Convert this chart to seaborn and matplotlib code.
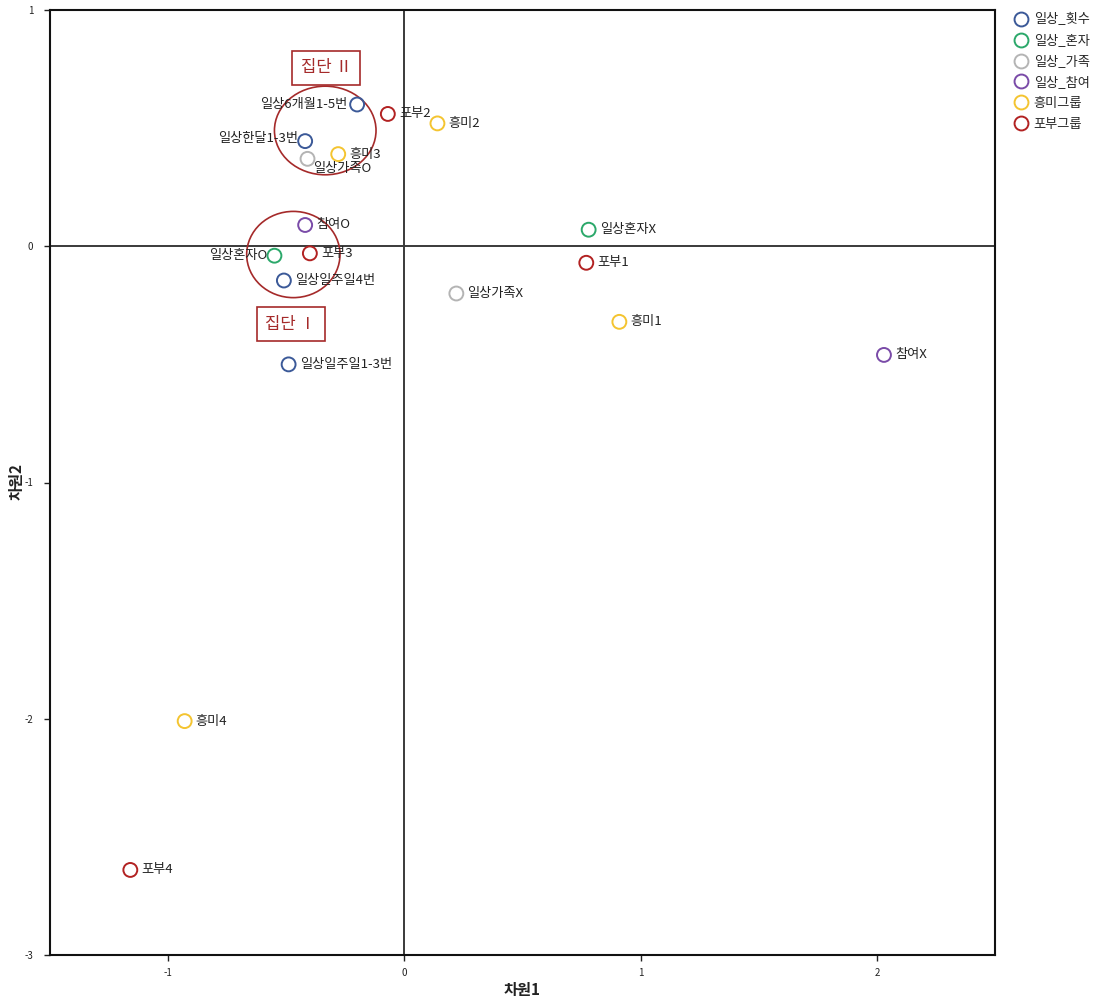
import matplotlib
matplotlib.use("Agg")
import matplotlib.pyplot as plt
from matplotlib.patches import Ellipse
from matplotlib.lines import Line2D
import seaborn as sns
import pandas as pd

sns.set_theme(style="white")
plt.rcParams['font.family'] = ['Noto Sans CJK KR', 'DejaVu Sans']
plt.rcParams['axes.unicode_minus'] = False

# Category coordinates on the two correspondence dimensions
labels = ["일상6개월1-5번", "일상한달1-3번", "일상일주일4번", "일상일주일1-3번",
          "일상혼자O", "일상혼자X",
          "일상가족O", "일상가족X",
          "참여O", "참여X",
          "흥미1", "흥미2", "흥미3", "흥미4",
          "포부1", "포부2", "포부3", "포부4"]
dim1 = [-0.20, -0.42, -0.51, -0.49,
        -0.55, 0.78,
        -0.41, 0.22,
        -0.42, 2.03,
        0.91, 0.14, -0.28, -0.93,
        0.77, -0.07, -0.40, -1.16]
dim2 = [0.60, 0.445, -0.145, -0.50,
        -0.04, 0.07,
        0.37, -0.20,
        0.09, -0.46,
        -0.32, 0.52, 0.39, -2.01,
        -0.07, 0.56, -0.03, -2.64]
groups = ["일상_횟수"] * 4 + ["일상_혼자"] * 2 + ["일상_가족"] * 2 + ["일상_참여"] * 2 \
         + ["흥미그룹"] * 4 + ["포부그룹"] * 4

group_order = ["일상_횟수", "일상_혼자", "일상_가족", "일상_참여", "흥미그룹", "포부그룹"]
group_colors = ["#3b5998", "#2ba86a", "#b4b4b4", "#7a4ba8", "#f4c430", "#b22222"]

# label offsets (pixels) and alignment per point
label_pos = {
    "일상6개월1-5번": (-10, 0, "right", "center"),
    "일상한달1-3번": (-7, 3, "right", "center"),
    "일상혼자O": (-7, 0, "right", "center"),
    "일상가족O": (6, -10, "left", "center"),
}

df = pd.DataFrame({"label": labels, "dim1": dim1, "dim2": dim2, "group": groups})

fig = plt.figure(figsize=(10.99, 10.0), dpi=100)
ax = fig.add_axes([50 / 1099, 45 / 1000, 945 / 1099, 945 / 1000])

ax.axhline(0, color="#3a3a3a", lw=1.4, zorder=1)
ax.axvline(0, color="#3a3a3a", lw=1.4, zorder=1)

palette = dict(zip(group_order, group_colors))
sns.scatterplot(data=df, x="dim1", y="dim2", hue="group", hue_order=group_order,
                palette=palette, s=100, marker="o", legend=False, ax=ax, zorder=3)
coll = ax.collections[-1]
coll.set_edgecolors(coll.get_facecolors())
coll.set_facecolors("none")
coll.set_linewidths(1.4)

for lab, x, y in zip(labels, dim1, dim2):
    dx, dy, ha, va = label_pos.get(lab, (11, 0, "left", "center"))
    ax.annotate(lab, (x, y), xytext=(dx, dy), textcoords="offset pixels",
                ha=ha, va=va, fontsize=9.5, color="#222222", zorder=4)

# cluster outlines
ax.add_patch(Ellipse((-0.335, 0.49), 0.43, 0.375, fill=False,
                     edgecolor="#a52a2a", lw=1.2, zorder=2))
ax.add_patch(Ellipse((-0.47, -0.035), 0.395, 0.365, fill=False,
                     edgecolor="#a52a2a", lw=1.2, zorder=2))

box = dict(boxstyle="square,pad=0.5", fc="white", ec="#a52a2a", lw=1.2)
ax.text(-0.33, 0.755, "집단 Ⅱ", ha="center", va="center", fontsize=12,
        color="#a52a2a", bbox=box, zorder=5)
ax.text(-0.48, -0.33, "집단 Ⅰ", ha="center", va="center", fontsize=12,
        color="#a52a2a", bbox=box, zorder=5)

ax.set_xlim(-1.5, 2.5)
ax.set_ylim(-3, 1)
ax.set_xticks([-1, 0, 1, 2])
ax.set_yticks([1, 0, -1, -2, -3])
ax.set_xticklabels(["-1", "0", "1", "2"])
ax.set_yticklabels(["1", "0", "-1", "-2", "-3"])
ax.tick_params(axis="x", direction="out", length=4, width=1, labelsize=7,
               colors="#222222", bottom=True, pad=5)
ax.tick_params(axis="y", direction="out", length=4, width=1, labelsize=7,
               colors="#222222", left=True, pad=8)
for sp in ax.spines.values():
    sp.set_color("#111111")
    sp.set_linewidth(1.5)

ax.set_xlabel("")
ax.set_ylabel("")
fig.text(522 / 1099, 1 - 990 / 1000, "차원1", ha="center", va="center",
         fontsize=11, fontweight="bold", color="#222222")
fig.text(17 / 1099, 1 - 482 / 1000, "차원2", ha="center", va="center",
         rotation=90, fontsize=11, fontweight="bold", color="#222222")

handles = [Line2D([], [], marker="o", ls="none", markersize=10, markerfacecolor="none",
                  markeredgecolor=c, markeredgewidth=1.4) for c in group_colors]
fig.legend(handles, group_order, loc="upper left", bbox_to_anchor=(1008 / 1099, 0.992),
           frameon=False, fontsize=9.5, handletextpad=0.35, labelspacing=0.6,
           borderaxespad=0, handlelength=1.2)

fig.savefig("out.png", dpi=100)
